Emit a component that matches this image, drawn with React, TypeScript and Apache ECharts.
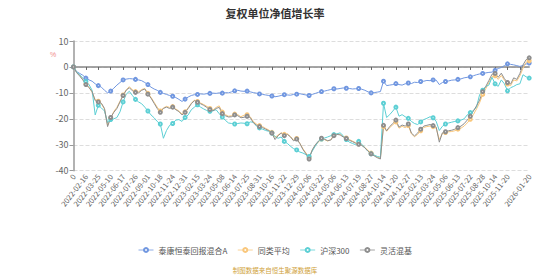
import React, { useEffect, useRef } from "react";
import * as echarts from "echarts";

// Dates shown on the x axis (every 4th category), the first category is "0"
const labelDates = [
  "2022-02-16", "2022-03-25", "2022-05-10", "2022-06-17", "2022-07-26", "2022-09-01",
  "2022-10-18", "2022-11-24", "2022-12-31", "2023-02-15", "2023-03-24", "2023-05-08",
  "2023-06-14", "2023-07-25", "2023-08-31", "2023-10-16", "2023-11-22", "2023-12-29",
  "2024-02-06", "2024-03-22", "2024-05-06", "2024-06-13", "2024-07-19", "2024-08-27",
  "2024-10-14", "2024-11-20", "2024-12-27", "2025-02-13", "2025-03-24", "2025-05-06",
  "2025-06-13", "2025-07-22", "2025-08-28", "2025-10-14", "2025-11-20",
];
const endDate = "2026-01-20";

const seriesNames = ["泰康恒泰回报混合A", "同类平均", "沪深300", "灵活混基"];
const yTicks = [-40, -30, -20, -10, 0, 10];

// 泰康恒泰回报混合A (%)
const fundValues = [
  0, -1.8, -2.5, -3.2, -4.3, -5.0, -5.5, -6.5, -7.2, -7.8, -9.0, -10.0, -9.3, -8.2, -7.0, -6.0,
  -5.0, -4.7, -4.5, -4.6, -4.8, -5.0, -5.3, -6.0, -6.8, -7.8, -8.5, -9.0, -9.8, -10.2, -10.6, -11.0,
  -11.3, -11.8, -12.5, -13.3, -12.4, -11.6, -11.0, -10.7, -10.6, -10.4, -10.5, -10.3, -10.2, -10.1, -10.2, -10.0,
  -10.1, -9.9, -10.0, -9.6, -9.2, -9.0, -9.3, -9.4, -9.3, -9.6, -9.9, -10.1, -10.4, -10.6, -10.8, -11.0,
  -11.2, -11.5, -11.3, -11.0, -10.7, -10.8, -10.9, -10.6, -10.5, -10.3, -10.6, -10.8, -11.0, -10.6, -10.2, -9.8,
  -9.5, -9.3, -9.0, -8.7, -8.4, -8.5, -8.3, -8.1, -8.2, -8.3, -8.5, -8.4, -8.3, -8.6, -9.0, -9.6,
  -10.0, -9.9, -9.7, -9.5, -5.5, -7.2, -7.0, -6.8, -6.4, -6.8, -7.0, -6.5, -6.2, -6.4, -5.9, -6.0,
  -5.6, -5.5, -5.2, -5.3, -5.0, -5.1, -6.8, -6.0, -5.6, -5.4, -5.1, -5.0, -4.8, -4.6, -4.2, -4.0,
  -3.8, -3.4, -3.0, -2.7, -2.5, -2.3, -2.1, -2.0, -1.3, -0.6, -0.2, 0.5, 1.2, 1.0, 0.8, 0.5,
  0.2, 0.6, 1.1, 1.5,
];

// 同类平均 (%)
const peerValues = [
  0, -2.0, -3.3, -4.8, -6.5, -7.8, -9.8, -12.6, -13.2, -14.2, -16.3, -22.5, -19.8, -17.2, -15.6, -13.2,
  -10.8, -8.8, -7.6, -8.8, -9.5, -9.6, -8.7, -8.3, -10.2, -11.7, -13.6, -15.5, -17.0, -15.8, -15.2, -15.6,
  -15.3, -16.2, -17.0, -18.2, -17.3, -15.7, -14.0, -12.8, -13.3, -13.9, -14.5, -15.2, -16.0, -16.6, -15.6, -15.0,
  -17.4, -18.4, -19.0, -18.8, -18.2, -18.4, -19.2, -18.6, -18.4, -19.2, -21.0, -22.0, -22.6, -23.0, -23.7, -24.3,
  -25.2, -27.2, -26.2, -25.4, -26.0, -25.8, -26.8, -28.2, -27.6, -29.4, -31.5, -33.2, -34.8, -32.2, -30.2, -28.9,
  -27.8, -28.0, -28.6, -28.0, -26.3, -25.8, -26.0, -26.8, -27.4, -28.0, -28.6, -29.2, -29.6, -30.1, -31.0, -32.2,
  -33.2, -34.0, -34.8, -35.2, -23.0, -24.8, -23.4, -22.3, -21.2, -23.6, -22.9, -23.4, -22.6, -25.8, -26.9, -26.0,
  -24.6, -23.3, -23.0, -22.8, -23.0, -23.6, -28.0, -25.6, -25.3, -25.0, -24.9, -24.6, -24.0, -23.6, -22.8, -21.6,
  -20.2, -18.4, -16.2, -13.8, -10.6, -8.4, -6.0, -3.8, -3.4, -4.8, -3.3, -5.1, -6.6, -7.2, -5.0, -5.4,
  -3.4, -0.5, 1.8, 2.4,
];

// 沪深300 (%)
const csiValues = [
  0, -2.0, -3.0, -4.3, -5.6, -6.8, -9.0, -18.5, -14.8, -15.8, -17.0, -21.5, -20.3, -20.0, -19.5, -17.3,
  -13.5, -10.5, -9.4, -11.0, -12.5, -13.5, -14.2, -15.5, -17.0, -18.5, -19.6, -21.0, -22.0, -27.5, -24.5, -22.5,
  -21.8, -20.5, -20.3, -21.0, -19.5, -18.5, -16.5, -15.5, -14.6, -15.5, -16.2, -16.8, -17.1, -16.8, -16.5, -18.0,
  -19.3, -20.6, -21.6, -21.8, -22.0, -21.8, -21.6, -21.7, -21.9, -21.2, -21.3, -22.8, -23.5, -24.0, -24.5, -24.8,
  -25.5, -26.8, -27.5, -27.0, -28.7, -29.5, -30.6, -31.5, -32.0, -32.8, -33.2, -33.8, -34.5, -32.5, -30.5, -28.7,
  -27.8, -27.4, -27.0, -26.5, -26.1, -25.8, -25.4, -26.5, -28.0, -29.0, -29.5, -30.0, -28.7, -29.8, -31.2, -32.5,
  -33.5, -34.0, -34.5, -34.8, -14.0, -19.5, -18.4, -17.0, -15.5, -19.0, -18.4, -19.2, -19.8, -21.0, -21.8, -22.2,
  -21.2, -20.3, -19.8, -19.2, -19.6, -21.0, -24.5, -22.9, -22.0, -21.6, -21.3, -21.0, -20.8, -20.5, -20.0, -18.5,
  -17.6, -16.8, -15.5, -10.7, -9.0, -7.5, -7.0, -4.0, -6.5, -7.5, -5.0, -6.5, -9.2, -8.0, -7.5, -6.8,
  -6.5, -3.0, -3.8, -4.3,
];

// 灵活混基 (%)
const flexValues = [
  0, -2.2, -3.5, -5.0, -6.8, -8.0, -9.5, -13.0, -13.5, -14.0, -16.0, -23.0, -19.5, -17.5, -16.0, -13.5,
  -11.0, -9.0, -8.0, -9.2, -9.8, -10.0, -9.0, -8.5, -10.5, -12.0, -14.0, -16.0, -17.5, -16.0, -15.5, -16.0,
  -15.5, -16.5, -17.2, -18.5, -17.5, -16.0, -14.2, -13.0, -13.6, -14.2, -14.8, -15.6, -16.4, -17.0, -16.0, -15.6,
  -18.0, -18.8, -19.3, -19.2, -18.5, -18.8, -19.6, -19.4, -19.0, -19.5, -21.5, -22.4, -23.0, -23.4, -24.0, -24.6,
  -25.5, -28.0, -26.5, -25.5, -26.5, -26.0, -27.0, -28.5, -27.8, -29.5, -31.8, -33.5, -35.5, -32.0, -30.0, -28.6,
  -27.5, -27.9, -28.4, -28.2, -26.5, -26.0, -26.2, -27.0, -27.6, -28.3, -28.8, -29.4, -29.8, -30.3, -31.2, -32.5,
  -33.5, -34.3, -35.0, -35.5, -22.5, -24.6, -23.0, -21.8, -20.5, -23.2, -22.4, -22.8, -22.0, -25.5, -26.6, -25.5,
  -24.0, -22.8, -22.5, -22.2, -22.6, -23.2, -29.0, -25.4, -25.0, -24.6, -24.4, -24.0, -23.4, -22.8, -21.9, -20.5,
  -19.0, -17.0, -15.0, -12.8, -9.5, -7.5, -5.2, -2.8, -2.5, -4.0, -2.4, -4.5, -6.0, -6.6, -4.2, -4.8,
  -2.5, 0.8, 2.8, 3.5,
];

const colors = ["#7197e0", "#f9c77c", "#5ccfd4", "#8e8e8e"];

function addDays(d: string, n: number): string {
  const t = new Date(d + "T00:00:00Z");
  t.setUTCDate(t.getUTCDate() + n);
  return t.toISOString().slice(0, 10);
}
function daysBetween(a: string, b: string): number {
  return Math.round((Date.parse(b + "T00:00:00Z") - Date.parse(a + "T00:00:00Z")) / 86400000);
}

// Category list: one entry per weekly-ish sample, labelled dates every 4th entry
function buildCategories(): string[] {
  const cats: string[] = ["0"];
  for (let j = 3; j >= 1; j--) cats.push(addDays(labelDates[0], -7 * j));
  for (let i = 0; i < labelDates.length - 1; i++) {
    const a = labelDates[i];
    const gap = daysBetween(a, labelDates[i + 1]);
    cats.push(a);
    for (let j = 1; j < 4; j++) cats.push(addDays(a, Math.round((gap * j) / 4)));
  }
  const lastLabel = labelDates[labelDates.length - 1];
  const tailGap = daysBetween(lastLabel, endDate);
  cats.push(lastLabel);
  for (let j = 1; j < 7; j++) cats.push(addDays(lastLabel, Math.round((tailGap * j) / 7)));
  cats.push(endDate);
  return cats;
}

export default function App() {
  const ref = useRef<HTMLDivElement>(null);

  useEffect(() => {
    if (!ref.current) return;
    const chart = echarts.init(ref.current, undefined, { renderer: "svg" });
    const categories = buildCategories();
    const lastIdx = categories.length - 1;
    const lastLabelIdx = 4 * labelDates.length;
    const valueSets = [fundValues, peerValues, csiValues, flexValues];

    chart.setOption({
      animation: false,
      textStyle: { fontFamily: "'Noto Sans CJK SC', 'Noto Sans', sans-serif" },
      title: {
        text: "复权单位净值增长率",
        left: "center",
        top: 2,
        textStyle: { fontSize: 11, fontWeight: "bold", color: "#333" },
      },
      legend: {
        bottom: 16,
        left: "center",
        itemWidth: 15,
        itemHeight: 5,
        itemGap: 10,
        itemStyle: { borderWidth: 0.8 },
        lineStyle: { width: 0.8 },
        textStyle: { fontSize: 8, color: "#555" },
        data: seriesNames,
      },
      grid: { left: 73.5, right: 20.8, top: 41, bottom: 104.3, containLabel: false },
      xAxis: [
        {
          type: "category",
          data: categories,
          boundaryGap: false,
          position: "bottom",
          axisLine: { show: false, onZero: false },
          axisTick: { show: false },
          axisLabel: {
            rotate: 52,
            fontSize: 7.5,
            color: "#666",
            margin: 4,
            interval: (idx: number) => idx === lastIdx || (idx % 4 === 0 && idx <= lastLabelIdx),
          },
          splitLine: { show: false },
        },
        {
          type: "category",
          data: categories,
          boundaryGap: false,
          position: "bottom",
          axisLine: { show: true, onZero: true, lineStyle: { color: "#888", width: 1.5 } },
          axisTick: { show: true, interval: 3, length: 3, lineStyle: { color: "#666" } },
          axisLabel: { show: false },
          splitLine: { show: false },
        },
      ],
      yAxis: {
        type: "value",
        min: yTicks[0],
        max: yTicks[yTicks.length - 1],
        interval: 10,
        axisLine: { show: true, lineStyle: { color: "#999", width: 1.5 } },
        axisTick: { show: true, length: 4, lineStyle: { color: "#999" } },
        axisLabel: { fontSize: 9, color: "#666", margin: 5 },
        splitLine: { show: true, lineStyle: { type: "dashed", color: "#ddd" } },
      },
      graphic: [
        {
          type: "text",
          left: 50,
          top: 51,
          style: { text: "%", fontSize: 7, fill: "#f08a8a" },
        },
        {
          type: "text",
          left: "center",
          bottom: 2,
          style: {
            text: "制图数据来自恒生聚源数据库",
            fontSize: 6.5,
            fill: "#cf9f3a",
            fontFamily: "'Noto Sans CJK SC', sans-serif",
          },
        },
      ],
      series: seriesNames.map((name, i) => ({
        name,
        type: "line",
        xAxisIndex: 0,
        data: valueSets[i],
        color: colors[i],
        symbol: "emptyCircle",
        symbolSize: 3,
        showSymbol: true,
        showAllSymbol: "auto",
        lineStyle: { width: 1, color: colors[i] },
        itemStyle: { color: colors[i], borderWidth: 0.8 },
      })),
    });

    return () => chart.dispose();
  }, []);

  return (
    <div
      ref={ref}
      style={{ position: "fixed", left: 0, top: 0, width: 550, height: 275, background: "#fff" }}
    />
  );
}
